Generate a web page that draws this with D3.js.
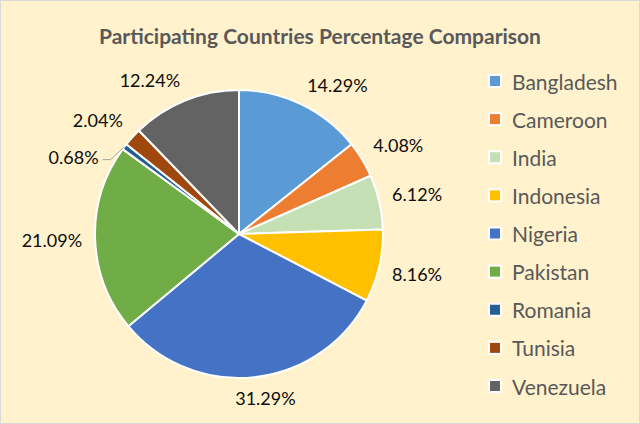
<!DOCTYPE html>
<html><head><meta charset="utf-8">
<script src="https://cdn.jsdelivr.net/npm/d3@7"></script>
<style>html,body{margin:0;padding:0;background:#fff;}svg{display:block;}</style>
</head><body>
<svg id="chart" width="640" height="424"></svg>
<script>
const categories = ["Bangladesh","Cameroon","India","Indonesia","Nigeria","Pakistan","Romania","Tunisia","Venezuela"];
const percentages = [14.29, 4.08, 6.12, 8.16, 31.29, 21.09, 0.68, 2.04, 12.24];
const colors = ["#5B9BD5","#ED7D31","#C5E0B4","#FFC000","#4472C4","#70AD47","#255E91","#9E480E","#636363"];
const title = "Participating Countries Percentage Comparison";

const W = 640, H = 424;
const svg = d3.select("#chart");
const FONT = "Lato, 'Open Sans', sans-serif";

svg.append("rect").attr("x",0.5).attr("y",0.5).attr("width",W-1).attr("height",H-1)
  .attr("fill","#FFF2CC").attr("stroke","#D9D9D9");

svg.append("text").attr("x",W/2).attr("y",43.5).attr("text-anchor","middle")
  .attr("font-family",FONT).attr("font-weight","bold").attr("font-size",21)
  .attr("fill","#595959").text(title);

const cx = 239, cy = 234, R = 144;
const data = categories.map((c,i)=>({name:c, value:percentages[i], color:colors[i]}));
const pie = d3.pie().value(d=>d.value).sort(null);
const arcs = pie(data);
const arc = d3.arc().innerRadius(0).outerRadius(R);
const g = svg.append("g").attr("transform",`translate(${cx},${cy})`);
g.selectAll("path").data(arcs).join("path")
  .attr("d",arc).attr("fill",d=>d.data.color)
  .attr("stroke","#fff").attr("stroke-width",2).attr("stroke-linejoin","round");

// labels (outside end, box edge anchored on the radial line)
const LFS = 18, gap = 13, halfH = 8, k = 3;
const clamp = v => Math.max(-1, Math.min(1, v));
const lg = g.append("g").attr("font-family",FONT).attr("font-size",LFS).attr("fill","#0D0D0D");
arcs.forEach(a=>{
  const mid = (a.startAngle+a.endAngle)/2;
  const s = Math.sin(mid), c = -Math.cos(mid);
  const txt = a.data.value.toFixed(2)+"%";
  if (a.data.value < 1) {
    const p0 = [R*s, R*c];
    const p1 = [p0[0]-14, p0[1]+13];
    const p2 = [p1[0]-8, p1[1]];
    g.append("polyline").attr("points",[p0,p1,p2].map(p=>p.join(",")).join(" "))
      .attr("fill","none").attr("stroke","#A6A6A6").attr("stroke-width",1);
    lg.append("text").attr("x",p2[0]-4).attr("y",p2[1]-3).attr("text-anchor","end")
      .attr("dominant-baseline","central").text(txt);
    return;
  }
  const t = lg.append("text").text(txt).attr("text-anchor","middle").attr("dominant-baseline","central");
  const w = t.node().getComputedTextLength();
  const px = (R+gap)*s, py = (R+gap)*c;
  t.attr("x", px + clamp(k*s)*w/2).attr("y", py + clamp(k*c)*halfH);
});

// legend
const leg = svg.append("g").attr("font-family",FONT).attr("font-size",21).attr("fill","#595959");
const ly = d3.scalePoint().domain(categories).range([81, 386]);
categories.forEach((c,i)=>{
  const y = ly(c);
  leg.append("rect").attr("x",489).attr("y",y-6).attr("width",12).attr("height",12)
    .attr("fill",colors[i]).attr("stroke","#fff").attr("stroke-width",2);
  leg.append("text").attr("x",512).attr("y",y).attr("dominant-baseline","central").text(c);
});
</script>
</body></html>
